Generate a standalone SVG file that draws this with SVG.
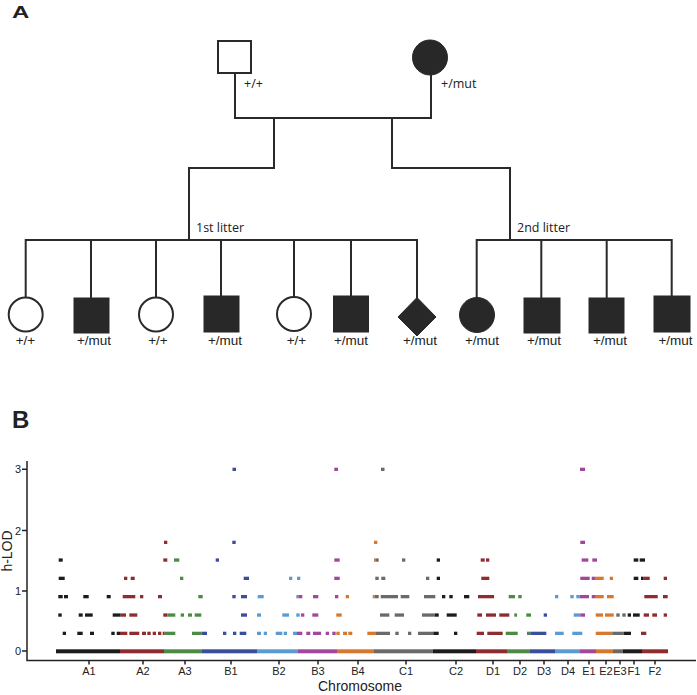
<svg xmlns="http://www.w3.org/2000/svg" width="697" height="695" viewBox="0 0 697 695">
<style>
.ln{stroke:#2a2a2a;stroke-width:2;fill:none;stroke-linecap:square}
.open{fill:#fff;stroke:#2a2a2a;stroke-width:2}
.fill{fill:#282828;stroke:#282828;stroke-width:1}
.lab{font-family:"Open Sans","Liberation Sans",sans-serif;font-size:12.5px;fill:#222}
.gl{font-family:"Liberation Sans",Arial,sans-serif;font-size:13.5px;fill:#222;text-anchor:middle}
.pl{font-family:"Liberation Sans",Arial,sans-serif;font-weight:bold;font-size:24px;fill:#222}
.tk{font-family:"Liberation Sans",Arial,sans-serif;font-size:11px;fill:#222}
.ax{stroke:#222;stroke-width:1.5;fill:none}
.k{fill:#1c1c1c}.r{fill:#8e2c30}.g{fill:#4c8b43}.b{fill:#3a4e9c}.l{fill:#5b9bd0}.p{fill:#a2489c}.o{fill:#d8782f}.y{fill:#6a6a6a}
</style>
<text class="pl" transform="translate(12,17.5) scale(1,0.72)">A</text>
<text class="pl" x="12" y="428">B</text>
<g id="connectors">
<path class="ln" d="M235 73V118H431V75"/>
<path class="ln" d="M274 118V168H189V240"/>
<path class="ln" d="M392 118V168H510V240"/>
<path class="ln" d="M25.7 297V240H417V297"/>
<path class="ln" d="M91 240V298M156 240V297M221 240V296M294 240V297M351 240V296"/>
<path class="ln" d="M476.7 297V240H671.7V296"/>
<path class="ln" d="M541.3 240V298M606.7 240V298"/>
</g>
<g id="father"><rect class="open" x="218" y="41" width="33" height="32"/><text class="lab" x="244" y="88">+/+</text></g>
<g id="mother"><circle class="fill" cx="430" cy="57.5" r="17.5"/><text class="lab" x="441" y="88">+/mut</text></g>
<text class="lab" x="196" y="232">1st litter</text>
<text class="lab" x="517" y="232">2nd litter</text>
<g id="c1"><circle class="open" cx="25.7" cy="314.5" r="17"/><text class="gl" x="25.5" y="345">+/+</text></g>
<g id="c2"><rect class="fill" x="74" y="298" width="35" height="35"/><text class="gl" x="94" y="345">+/mut</text></g>
<g id="c3"><circle class="open" cx="156" cy="314.5" r="17"/><text class="gl" x="158" y="345">+/+</text></g>
<g id="c4"><rect class="fill" x="204" y="296" width="35" height="36"/><text class="gl" x="225" y="345">+/mut</text></g>
<g id="c5"><circle class="open" cx="294" cy="314" r="17"/><text class="gl" x="296.5" y="345">+/+</text></g>
<g id="c6"><rect class="fill" x="333.5" y="296" width="35" height="36"/><text class="gl" x="351" y="345">+/mut</text></g>
<g id="c7"><polygon class="fill" points="417,297.5 436,317 417,336 398,317"/><text class="gl" x="420" y="345">+/mut</text></g>
<g id="c8"><circle class="fill" cx="477" cy="315" r="17.5"/><text class="gl" x="482" y="345">+/mut</text></g>
<g id="c9"><rect class="fill" x="524" y="298" width="36" height="35"/><text class="gl" x="544" y="345">+/mut</text></g>
<g id="c10"><rect class="fill" x="589" y="298" width="35" height="35"/><text class="gl" x="610" y="345">+/mut</text></g>
<g id="c11"><rect class="fill" x="654" y="296" width="36" height="36"/><text class="gl" x="675.5" y="345">+/mut</text></g>
<g id="plot">
<path class="ax" d="M27 461V660.5H696"/>
<path class="ax" d="M22 469.3H27M22 530.5H27M22 591H27M22 651H27"/>
<path class="ax" d="M89 660.5v4M143 660.5v4M185 660.5v4M231 660.5v4M279 660.5v4M318 660.5v4M358 660.5v4M406 660.5v4M456 660.5v4M493 660.5v4M520 660.5v4M544 660.5v4M568 660.5v4M589 660.5v4M606 660.5v4M620 660.5v4M634 660.5v4M655 660.5v4"/>
<g class="tk" text-anchor="end"><text x="21" y="473">3</text><text x="21" y="534.5">2</text><text x="21" y="595">1</text><text x="21" y="655">0</text></g>
<g class="tk" text-anchor="middle"><text x="89" y="675">A1</text><text x="143" y="675">A2</text><text x="185" y="675">A3</text><text x="231" y="675">B1</text><text x="279" y="675">B2</text><text x="318" y="675">B3</text><text x="358" y="675">B4</text><text x="406" y="675">C1</text><text x="456" y="675">C2</text><text x="493" y="675">D1</text><text x="520" y="675">D2</text><text x="544" y="675">D3</text><text x="568" y="675">D4</text><text x="589" y="675">E1</text><text x="606" y="675">E2</text><text x="620" y="675">E3</text><text x="634" y="675">F1</text><text x="655" y="675">F2</text></g>
<text class="tk" style="font-size:14px" x="360" y="691" text-anchor="middle">Chromosome</text>
<text class="tk" style="font-size:14px" transform="translate(11.5,551) rotate(-90)" text-anchor="middle">h-LOD</text>
<g transform="translate(0,649.3)">
<rect class="k" x="56" width="64" height="4"/><rect class="r" x="120" width="44" height="4"/><rect class="g" x="164" width="38" height="4"/><rect class="b" x="202" width="55" height="4"/><rect class="l" x="257" width="41" height="4"/><rect class="p" x="298" width="39" height="4"/><rect class="o" x="337" width="37" height="4"/><rect class="y" x="374" width="59" height="4"/><rect class="k" x="433" width="43" height="4"/><rect class="r" x="476" width="31" height="4"/><rect class="g" x="507" width="23" height="4"/><rect class="b" x="530" width="25" height="4"/><rect class="l" x="555" width="25" height="4"/><rect class="p" x="580" width="16" height="4"/><rect class="o" x="596" width="17" height="4"/><rect class="y" x="613" width="10" height="4"/><rect class="k" x="623" width="19" height="4"/><rect class="r" x="642" width="26" height="4"/>
</g>
<g transform="translate(0,467.7)">
<rect class="b" x="232.5" width="3.5" height="3.3"/><rect class="p" x="334.3" width="3.7" height="3.3"/><rect class="y" x="381" width="3.5" height="3.3"/><rect class="p" x="580" width="5" height="3.3"/>
</g>
<g transform="translate(0,540.7)">
<rect class="r" x="164" width="3.3" height="3.3"/><rect class="b" x="232.3" width="3.4" height="3.3"/><rect class="o" x="374" width="3.3" height="3.3"/><rect class="p" x="580.3" width="4.7" height="3.3"/>
</g>
<g transform="translate(0,558.4)">
<rect class="k" x="58.7" width="4" height="3.3"/><rect class="r" x="163.3" width="4" height="3.3"/><rect class="g" x="174" width="5.3" height="3.3"/><rect class="b" x="215.7" width="3.3" height="3.3"/><rect class="p" x="334.3" width="5.4" height="3.3"/><rect class="o" x="374" width="1.3" height="3.3"/><rect class="y" x="375.3" width="3.4" height="3.3"/><rect class="y" x="402" width="3.3" height="3.3"/><rect class="k" x="436.7" width="3.3" height="3.3"/><rect class="r" x="480.7" width="4" height="3.3"/><rect class="r" x="486" width="3.3" height="3.3"/><rect class="p" x="581.7" width="6.6" height="3.3"/><rect class="p" x="592.3" width="4.7" height="3.3"/><rect class="k" x="633.7" width="4.6" height="3.3"/><rect class="k" x="639.7" width="5.3" height="3.3"/>
</g>
<g transform="translate(0,576.7)">
<rect class="k" x="58.7" width="6" height="3.3"/><rect class="r" x="124" width="3.3" height="3.3"/><rect class="r" x="130.7" width="4" height="3.3"/><rect class="g" x="180" width="3.3" height="3.3"/><rect class="b" x="243.7" width="5.3" height="3.3"/><rect class="l" x="289" width="3.3" height="3.3"/><rect class="l" x="297" width="3.3" height="3.3"/><rect class="p" x="334.3" width="5.4" height="3.3"/><rect class="y" x="375.3" width="3.4" height="3.3"/><rect class="y" x="381.3" width="4" height="3.3"/><rect class="y" x="426" width="3.3" height="3.3"/><rect class="k" x="436.7" width="3.3" height="3.3"/><rect class="r" x="481.3" width="8" height="3.3"/><rect class="p" x="580.3" width="9.4" height="3.3"/><rect class="p" x="591.7" width="4" height="3.3"/><rect class="o" x="595.7" width="8" height="3.3"/><rect class="o" x="609.7" width="3.3" height="3.3"/><rect class="k" x="633.7" width="4.6" height="3.3"/><rect class="k" x="641" width="2.7" height="3.3"/><rect class="r" x="643.7" width="6" height="3.3"/><rect class="r" x="663.7" width="3.3" height="3.3"/>
</g>
<g transform="translate(0,595)">
<rect class="k" x="58.3" width="4.4" height="3.3"/><rect class="k" x="64" width="4" height="3.3"/><rect class="k" x="83.3" width="5.4" height="3.3"/><rect class="k" x="106.7" width="4" height="3.3"/><rect class="r" x="122.7" width="12.6" height="3.3"/><rect class="r" x="140" width="3.3" height="3.3"/><rect class="r" x="158" width="4" height="3.3"/><rect class="g" x="198.3" width="4.4" height="3.3"/><rect class="b" x="232.3" width="3.4" height="3.3"/><rect class="b" x="241" width="6" height="3.3"/><rect class="l" x="257.7" width="6" height="3.3"/><rect class="l" x="296.3" width="2" height="3.3"/><rect class="p" x="298.3" width="4" height="3.3"/><rect class="p" x="313" width="5.3" height="3.3"/><rect class="p" x="335" width="3.3" height="3.3"/><rect class="o" x="345.7" width="3.3" height="3.3"/><rect class="o" x="372.7" width="2" height="3.3"/><rect class="y" x="374.7" width="4" height="3.3"/><rect class="y" x="380.7" width="17.3" height="3.3"/><rect class="y" x="400.7" width="8.6" height="3.3"/><rect class="y" x="424" width="11.3" height="3.3"/><rect class="k" x="442" width="3.3" height="3.3"/><rect class="k" x="449.3" width="3.4" height="3.3"/><rect class="k" x="464" width="5.3" height="3.3"/><rect class="r" x="478" width="16" height="3.3"/><rect class="g" x="508.7" width="6.3" height="3.3"/><rect class="g" x="518.3" width="3.4" height="3.3"/><rect class="l" x="555" width="3.3" height="3.3"/><rect class="l" x="570.3" width="3.4" height="3.3"/><rect class="l" x="576.3" width="3.4" height="3.3"/><rect class="p" x="579.7" width="9.3" height="3.3"/><rect class="p" x="591.7" width="3.3" height="3.3"/><rect class="o" x="595" width="8.7" height="3.3"/><rect class="o" x="607" width="6.7" height="3.3"/><rect class="r" x="644.3" width="13.4" height="3.3"/><rect class="r" x="663" width="4.7" height="3.3"/>
</g>
<g transform="translate(0,613.4)">
<rect class="k" x="58.3" width="3.4" height="3.3"/><rect class="k" x="78.7" width="4" height="3.3"/><rect class="k" x="85" width="7.7" height="3.3"/><rect class="k" x="112.7" width="8" height="3.3"/><rect class="r" x="120.7" width="5.3" height="3.3"/><rect class="r" x="129.3" width="8" height="3.3"/><rect class="r" x="163.3" width="4" height="3.3"/><rect class="g" x="167.3" width="8" height="3.3"/><rect class="g" x="180.7" width="3.3" height="3.3"/><rect class="g" x="188" width="4" height="3.3"/><rect class="g" x="194.7" width="6.6" height="3.3"/><rect class="b" x="241" width="6" height="3.3"/><rect class="l" x="257" width="4" height="3.3"/><rect class="l" x="282.3" width="6.7" height="3.3"/><rect class="l" x="296.3" width="3.4" height="3.3"/><rect class="p" x="301" width="3.3" height="3.3"/><rect class="p" x="312.3" width="6" height="3.3"/><rect class="o" x="336.3" width="5.4" height="3.3"/><rect class="y" x="380" width="9.3" height="3.3"/><rect class="y" x="394.7" width="9.3" height="3.3"/><rect class="y" x="422" width="12.7" height="3.3"/><rect class="k" x="434.7" width="4" height="3.3"/><rect class="k" x="446.7" width="10" height="3.3"/><rect class="r" x="477.3" width="4.7" height="3.3"/><rect class="r" x="486" width="10" height="3.3"/><rect class="r" x="499.3" width="10" height="3.3"/><rect class="g" x="514.3" width="2.7" height="3.3"/><rect class="g" x="526.3" width="4.7" height="3.3"/><rect class="b" x="543.7" width="3.3" height="3.3"/><rect class="l" x="573.7" width="6.6" height="3.3"/><rect class="p" x="580.3" width="4.7" height="3.3"/><rect class="o" x="595.7" width="7.3" height="3.3"/><rect class="o" x="605" width="8.7" height="3.3"/><rect class="y" x="616.3" width="3.4" height="3.3"/><rect class="y" x="622.3" width="3.4" height="3.3"/><rect class="k" x="627.7" width="3.3" height="3.3"/><rect class="k" x="633" width="6.7" height="3.3"/><rect class="r" x="643.7" width="5.3" height="3.3"/><rect class="r" x="652.3" width="4.7" height="3.3"/><rect class="r" x="663.7" width="3.3" height="3.3"/>
</g>
<g transform="translate(0,631.7)">
<rect class="k" x="62.7" width="3.3" height="3.3"/><rect class="k" x="77.3" width="5.4" height="3.3"/><rect class="k" x="90" width="4" height="3.3"/><rect class="k" x="111.3" width="3.4" height="3.3"/><rect class="k" x="116.7" width="3.3" height="3.3"/><rect class="r" x="120" width="7.3" height="3.3"/><rect class="r" x="129.3" width="10" height="3.3"/><rect class="r" x="142" width="4" height="3.3"/><rect class="r" x="147.3" width="3.4" height="3.3"/><rect class="r" x="152.7" width="3.3" height="3.3"/><rect class="r" x="158" width="3.3" height="3.3"/><rect class="r" x="162.7" width="2" height="3.3"/><rect class="g" x="164.7" width="10.6" height="3.3"/><rect class="g" x="192" width="9.7" height="3.3"/><rect class="b" x="201.7" width="5.3" height="3.3"/><rect class="b" x="223" width="3.3" height="3.3"/><rect class="b" x="233" width="3.3" height="3.3"/><rect class="b" x="239.7" width="6.6" height="3.3"/><rect class="l" x="257" width="4" height="3.3"/><rect class="l" x="263.7" width="3.3" height="3.3"/><rect class="l" x="275.7" width="6.6" height="3.3"/><rect class="l" x="283.7" width="3.3" height="3.3"/><rect class="l" x="293" width="4" height="3.3"/><rect class="p" x="297" width="5.3" height="3.3"/><rect class="p" x="306.3" width="4" height="3.3"/><rect class="p" x="313" width="8" height="3.3"/><rect class="p" x="325.7" width="3.3" height="3.3"/><rect class="p" x="332.3" width="3.4" height="3.3"/><rect class="o" x="336.3" width="3.4" height="3.3"/><rect class="o" x="343" width="4" height="3.3"/><rect class="o" x="348.3" width="4" height="3.3"/><rect class="o" x="367.3" width="8" height="3.3"/><rect class="y" x="375.3" width="14.7" height="3.3"/><rect class="y" x="395.3" width="3.4" height="3.3"/><rect class="y" x="408" width="3.3" height="3.3"/><rect class="y" x="418" width="15.3" height="3.3"/><rect class="k" x="433.3" width="5.4" height="3.3"/><rect class="k" x="454" width="3.3" height="3.3"/><rect class="r" x="476.7" width="7.3" height="3.3"/><rect class="r" x="487.3" width="15.4" height="3.3"/><rect class="g" x="505.7" width="12" height="3.3"/><rect class="g" x="527" width="3.3" height="3.3"/><rect class="b" x="530.3" width="16" height="3.3"/><rect class="l" x="555" width="8.7" height="3.3"/><rect class="l" x="572.3" width="10" height="3.3"/><rect class="o" x="595.7" width="16.6" height="3.3"/><rect class="y" x="612.3" width="11.4" height="3.3"/><rect class="k" x="623.7" width="7.3" height="3.3"/><rect class="r" x="641" width="5.3" height="3.3"/>
</g>
</g>
</svg>
